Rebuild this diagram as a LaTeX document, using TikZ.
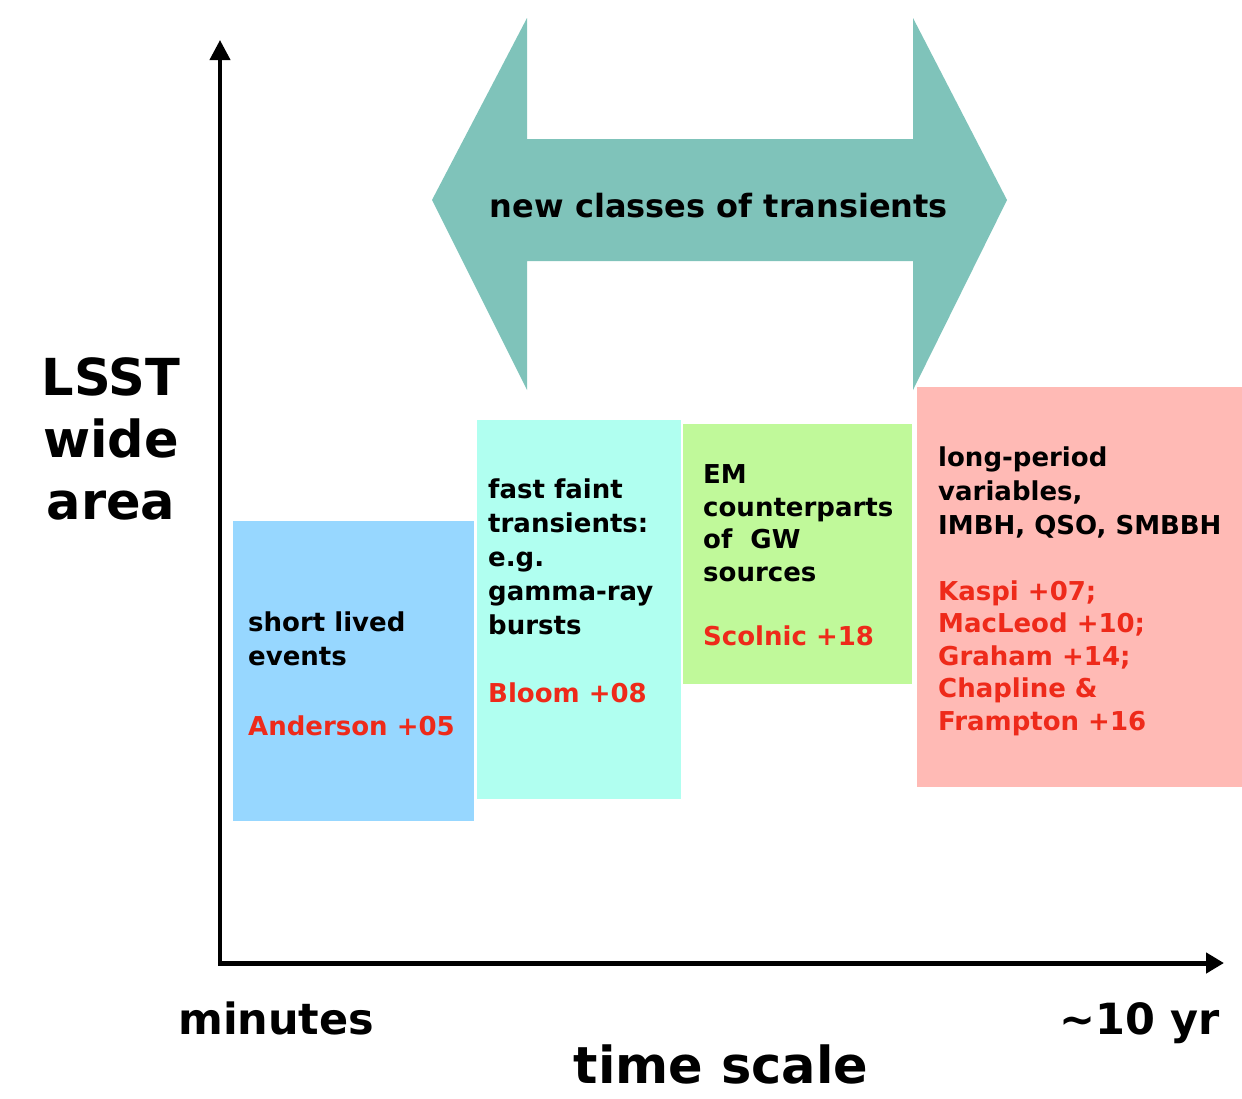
\documentclass[tikz,border=0pt]{standalone}
\usepackage{fontspec}
\setmainfont{DejaVu Sans}
\usetikzlibrary{arrows.meta}
\definecolor{cblue}{HTML}{97D7FF}
\definecolor{ccyan}{HTML}{B0FFF0}
\definecolor{cgreen}{HTML}{C0F99A}
\definecolor{cpink}{HTML}{FFBAB5}
\definecolor{cteal}{HTML}{7FC3BA}
\definecolor{cred}{HTML}{EE2A1A}
\tikzset{
  box/.style={draw=none, inner sep=0, anchor=north west},
  txt/.style={inner sep=0, anchor=base west, align=left, font=\bfseries\fontsize{26}{34}\selectfont},
  ref/.style={txt, text=cred},
  big/.style={inner sep=0, font=\bfseries\fontsize{#1}{#1}\selectfont},
  axis/.style={draw=black, line width=#1}
}
\begin{document}
\begin{tikzpicture}[x=1pt,y=-1pt]
\useasboundingbox (0,0) rectangle (1242,1098);
% double arrow
\fill[cteal] (432,200) -- (527,18) -- (527,139) -- (913,139) -- (913,18) -- (1007,200)
  -- (913,390) -- (913,261) -- (527,261) -- (527,390) -- cycle;
\node[big=32, anchor=base] (nc) at (719,217) {new classes of transients};
% boxes
\node[box, fill=cblue, minimum width=241, minimum height=300] (b1) at (233,521) {};
\node[box, fill=ccyan, minimum width=204, minimum height=379] (b2) at (477,420) {};
\node[box, fill=cgreen, minimum width=229, minimum height=260] (b3) at (683,424) {};
\node[box, fill=cpink, minimum width=325, minimum height=400] (b4) at (917,387) {};
% texts (anchored at the baseline of the last line)
\node[txt] (t1) at (248,665) {short lived\\events};
\node[ref] (r1) at (248,735) {Anderson +05};
\node[txt] (t2) at (488,634) {fast faint\\transients:\\e.g.\\gamma-ray\\bursts};
\node[ref] (r2) at (488,702) {Bloom +08};
\node[txt, font=\bfseries\fontsize{26}{32.5}\selectfont] (t3) at (703,581) {EM\\counterparts\\of~ GW\\sources};
\node[ref] (r3) at (703,645) {Scolnic +18};
\node[txt] (t4) at (938,534) {long-period\\variables,\\IMBH, QSO, SMBBH};
\node[ref, font=\bfseries\fontsize{26}{32.5}\selectfont] (r4) at (938,730) {Kaspi +07;\\MacLeod +10;\\Graham +14;\\Chapline \&\\Frampton +16};
% axes
\coordinate (o) at (220,963);
\coordinate (ytop) at (220,40);
\coordinate (xend) at (1224,963);
\draw[axis=4pt, -{Triangle[length=20pt,width=20pt]}] (220,965) -- (ytop);
\draw[axis=5pt, -{Triangle[length=18pt,width=20pt]}] (218,963) -- (xend);
% axis labels
\node[big=51, anchor=base, align=center, font=\bfseries\fontsize{51}{62}\selectfont] (lsst) at (111,519) {LSST\\wide\\area};
\node[big=43, anchor=base west] (min) at (178,1034) {minutes};
\node[big=43, anchor=base east] (yr) at (1220,1034) {\textasciitilde 10 yr};
\node[big=51, anchor=base] (ts) at (721,1083) {time scale};
\end{tikzpicture}
\end{document}
